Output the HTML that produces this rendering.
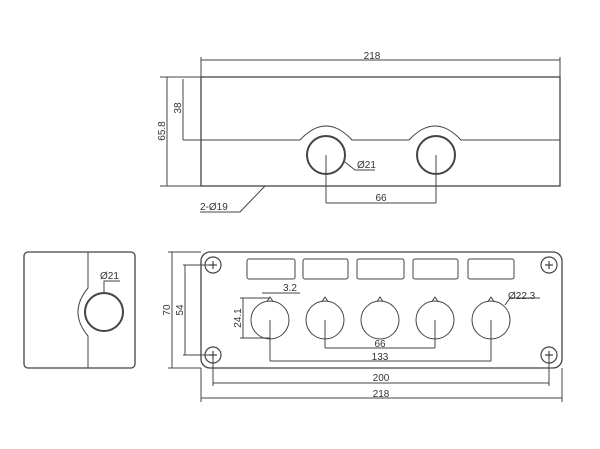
<!DOCTYPE html>
<html><head><meta charset="utf-8"><style>
html,body{margin:0;padding:0;background:#fff;}
svg{display:block}
text{font-family:"Liberation Sans",sans-serif;font-size:10px;fill:#333;}
</style></head><body>
<svg width="600" height="449" viewBox="0 0 600 449" xmlns="http://www.w3.org/2000/svg">
<g fill="none" stroke="#444" stroke-width="1">
<!-- TOP VIEW -->
<rect x="201" y="77" width="359" height="109" stroke-width="1.3"/>
<line x1="201" y1="77" x2="201" y2="57"/><line x1="560" y1="77" x2="560" y2="57"/>
<line x1="201" y1="60" x2="560" y2="60"/>
<line x1="160" y1="77" x2="201" y2="77"/><line x1="160" y1="186" x2="201" y2="186"/>
<line x1="167" y1="77" x2="167" y2="186"/>
<line x1="183" y1="79" x2="183" y2="140"/>
<path d="M183 140 H300 Q326 112 352 140 H409 Q435 112 461 140 H560"/>
<circle cx="326" cy="155" r="19" stroke-width="2"/>
<circle cx="436" cy="155" r="19" stroke-width="2"/>
<line x1="326" y1="155" x2="326" y2="203"/><line x1="436" y1="155" x2="436" y2="203"/>
<line x1="326" y1="203" x2="436" y2="203"/>
<path d="M345 162 L355 170 H375"/>
<path d="M200 212 H240 L265 186"/>
<!-- FRONT VIEW -->
<rect x="201" y="252" width="361" height="116" rx="9" stroke-width="1.3"/>
<g stroke-width="1.2">
<circle cx="213" cy="265" r="8"/><circle cx="213" cy="355" r="8"/>
<circle cx="549" cy="265" r="8"/><circle cx="549" cy="355" r="8"/>
<path d="M209 265h8M213 261v8M545 265h8M549 261v8M209 355h8M213 351v8M545 355h8M549 351v8"/>
</g>
<rect x="247" y="259" width="48" height="20" rx="2"/>
<rect x="303" y="259" width="45" height="20" rx="2"/>
<rect x="357" y="259" width="47" height="20" rx="2"/>
<rect x="413" y="259" width="45" height="20" rx="2"/>
<rect x="468" y="259" width="46" height="20" rx="2"/>
<g>
<circle cx="270" cy="320" r="19"/><circle cx="325" cy="320" r="19"/>
<circle cx="380" cy="320" r="19"/><circle cx="435" cy="320" r="19"/>
<circle cx="491" cy="320" r="19"/>
<path d="M267 301.5 L270 297 L273 301.5 M322 301.5 L325 297 L328 301.5 M377 301.5 L380 297 L383 301.5 M432 301.5 L435 297 L438 301.5 M488 301.5 L491 297 L494 301.5"/>
</g>
<line x1="168" y1="252" x2="201" y2="252"/><line x1="168" y1="368" x2="201" y2="368"/>
<line x1="172" y1="252" x2="172" y2="368"/>
<line x1="183" y1="265" x2="213" y2="265"/><line x1="183" y1="355" x2="213" y2="355"/>
<line x1="185" y1="265" x2="185" y2="355"/>
<line x1="240" y1="298" x2="270" y2="298"/><line x1="240" y1="338" x2="270" y2="338"/>
<line x1="243" y1="298" x2="243" y2="338"/>
<line x1="262" y1="293" x2="300" y2="293"/>
<line x1="270" y1="320" x2="270" y2="361"/><line x1="491" y1="320" x2="491" y2="361"/>
<line x1="325" y1="320" x2="325" y2="348"/><line x1="435" y1="320" x2="435" y2="348"/>
<line x1="325" y1="348" x2="435" y2="348"/>
<line x1="270" y1="361" x2="491" y2="361"/>
<line x1="213" y1="355" x2="213" y2="386"/><line x1="549" y1="355" x2="549" y2="386"/>
<line x1="213" y1="383" x2="549" y2="383"/>
<line x1="201" y1="368" x2="201" y2="402"/><line x1="562" y1="368" x2="562" y2="402"/>
<line x1="201" y1="398" x2="562" y2="398"/>
<path d="M505 305 L510 298 H540"/>
<!-- SIDE VIEW -->
<rect x="24" y="252" width="111" height="116" rx="4" stroke-width="1.3"/>
<path d="M88 252 V288 Q68 312 88 336 V368"/>
<circle cx="104" cy="312" r="19" stroke-width="2"/>
<path d="M104 293 V281 H120"/>
</g>
<g>
<text x="372" y="59" text-anchor="middle">218</text>
<text transform="translate(181,108) rotate(-90)" text-anchor="middle">38</text>
<text transform="translate(165,131) rotate(-90)" text-anchor="middle">65.8</text>
<text x="357" y="168">Ø21</text>
<text x="381" y="201" text-anchor="middle">66</text>
<text x="200" y="210">2-Ø19</text>
<text transform="translate(170,310) rotate(-90)" text-anchor="middle">70</text>
<text transform="translate(183,310) rotate(-90)" text-anchor="middle">54</text>
<text transform="translate(241,318) rotate(-90)" text-anchor="middle">24.1</text>
<text x="283" y="291">3.2</text>
<text x="508" y="299">Ø22.3</text>
<text x="380" y="347" text-anchor="middle">66</text>
<text x="380" y="360" text-anchor="middle">133</text>
<text x="381" y="381" text-anchor="middle">200</text>
<text x="381" y="397" text-anchor="middle">218</text>
<text x="100" y="279">Ø21</text>
</g>
</svg>
</body></html>
